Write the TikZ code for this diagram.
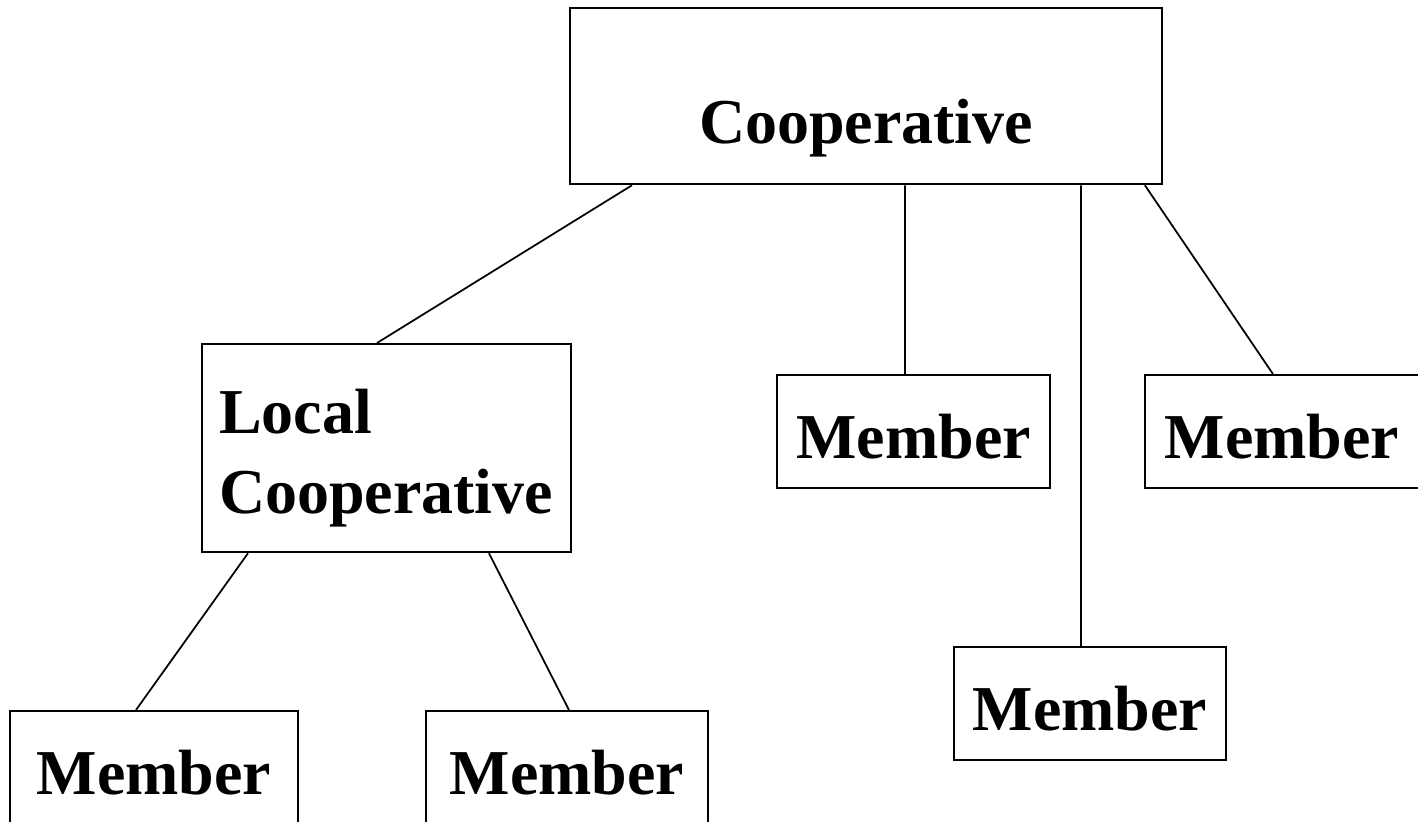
\documentclass[tikz,border=0pt]{standalone}
\usepackage{fontspec}
\setmainfont{Liberation Serif}
\usepackage{tikz}

\begin{document}
\begin{tikzpicture}[x=0.02cm, y=-0.02cm,
        box/.style={draw, line width=1.3pt, inner sep=0pt, anchor=north west,
            font=\fontsize{36.4pt}{45.5pt}\selectfont\bfseries},
        memberbox/.style={box, text height=1.66cm, text depth=0.60cm},
        link/.style={line width=1pt}]
        \useasboundingbox (0,0) rectangle (1418,822);
        % Top level
        \node[box, minimum width=11.84cm, text height=2.70cm, text depth=0.82cm] (coop) at (569,7) {Cooperative};
        % Second level
        \node[box, minimum width=7.38cm, inner xsep=0.34cm, text width=6.7cm, align=left, text height=1.78cm, text depth=2.38cm] (local) at (201,343) {Local\\Cooperative};
        \node[memberbox, minimum width=5.46cm] (m1) at (776,374) {Member};
        \node[memberbox, minimum width=5.48cm] (m2) at (1144,374) {Member};
        \node[memberbox, minimum width=5.44cm] (m3) at (953,646) {Member};
        % Members of the local cooperative
        \node[memberbox, minimum width=5.76cm] (l1) at (9,710) {Member};
        \node[memberbox, minimum width=5.64cm] (l2) at (425,710) {Member};
        \draw[link] ([xshift=1.26cm]coop.south west) -- ([xshift=3.52cm]local.north west);
        \draw[link] ([xshift=6.72cm]coop.south west) -- ([xshift=2.58cm]m1.north west);
        \draw[link] ([xshift=10.24cm]coop.south west) -- ([xshift=2.56cm]m3.north west);
        \draw[link] ([xshift=11.52cm]coop.south west) -- ([xshift=2.58cm]m2.north west);
        \draw[link] ([xshift=0.94cm]local.south west) -- ([xshift=2.54cm]l1.north west);
        \draw[link] ([xshift=5.76cm]local.south west) -- ([xshift=2.88cm]l2.north west);
    \end{tikzpicture}
\end{document}
